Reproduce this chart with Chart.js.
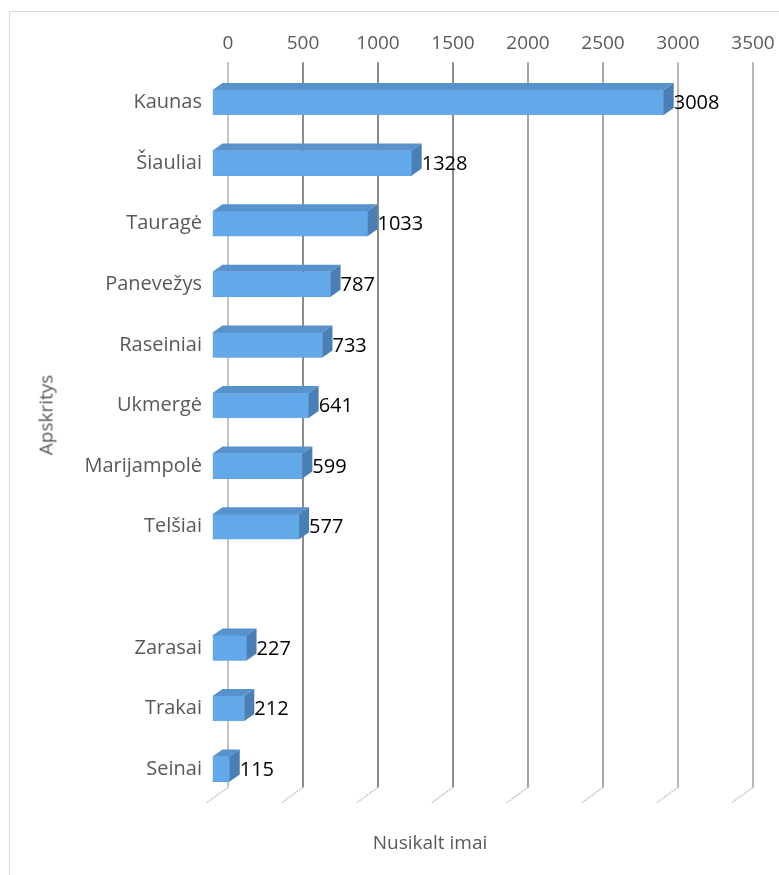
<!DOCTYPE html>
<html><head><meta charset="utf-8">
<script src="https://cdn.jsdelivr.net/npm/chart.js@4.4.0/dist/chart.umd.min.js"></script>
<style>
html,body{margin:0;padding:0;background:#fff;}
#wrap{position:relative;width:779px;height:875px;overflow:hidden;}
#frame{position:absolute;left:9px;top:11px;width:800px;height:900px;border:1px solid #d9d9d9;box-sizing:border-box;}
canvas{position:absolute;left:0;top:0;}
.ttl{position:absolute;font-family:'Open Sans', sans-serif;font-size:19px;color:#595959;white-space:nowrap;line-height:1;}
#xt{left:430px;top:842px;transform:translate(-50%,-50%);}
#yt{left:46px;top:415px;transform:translate(-50%,-50%) rotate(-90deg);}
</style></head><body>
<div id="wrap"><div id="frame"></div><canvas id="c" width="779" height="875"></canvas>
<div class="ttl" id="xt">Nusikalt imai</div>
<div class="ttl" id="yt">Apskritys</div></div>
<script>
const categories = ['Kaunas','Šiauliai','Tauragė','Panevežys','Raseiniai','Ukmergė','Marijampolė','Telšiai','','Zarasai','Trakai','Seinai'];
const crimes = [3008,1328,1033,787,733,641,599,577,null,227,212,115];
const tickValues = [0,500,1000,1500,2000,2500,3000,3500];

const DX = 10, DY = -7;
const gridColors = ['#c4c4c4','#8c8c8c','#8c8c8c','#8c8c8c','#a4a4a4','#a8a8a8','#b8b8b8','#b8b8b8'];

const threeD = {
  id: 'threeD',
  beforeDatasetsDraw(chart) {
    const ctx = chart.ctx, xs = chart.scales.x, area = chart.chartArea;
    ctx.save();
    xs.ticks.forEach((t, i) => {
      const gx = Math.round(xs.getPixelForValue(t.value) + 15.5);
      ctx.strokeStyle = gridColors[i % gridColors.length];
      ctx.lineWidth = 2;
      ctx.beginPath();
      ctx.moveTo(gx, area.top - 10);
      ctx.lineTo(gx, area.bottom - 12);
      ctx.stroke();
      ctx.strokeStyle = '#c8c8c8';
      ctx.lineWidth = 1.5;
      ctx.setLineDash([2, 1]);
      ctx.beginPath();
      ctx.moveTo(gx, area.bottom - 12);
      ctx.lineTo(gx - 21, area.bottom + 3);
      ctx.stroke();
      ctx.setLineDash([]);
    });
    ctx.restore();
  },
  afterDatasetsDraw(chart) {
    const ctx = chart.ctx;
    const meta = chart.getDatasetMeta(0);
    ctx.save();
    meta.data.forEach((bar, i) => {
      const v = chart.data.datasets[0].data[i];
      if (v === null || v === undefined) return;
      const p = bar.getProps(['x','y','base','height'], true);
      const top = p.y - p.height / 2, bottom = p.y + p.height / 2;
      ctx.fillStyle = '#5792cc';
      ctx.beginPath();
      ctx.moveTo(p.base, top);
      ctx.lineTo(p.x, top);
      ctx.lineTo(p.x + DX, top + DY);
      ctx.lineTo(p.base + DX, top + DY);
      ctx.closePath();
      ctx.fill();
      ctx.fillStyle = '#4a7fb6';
      ctx.beginPath();
      ctx.moveTo(p.x, top);
      ctx.lineTo(p.x + DX, top + DY);
      ctx.lineTo(p.x + DX, bottom + DY);
      ctx.lineTo(p.x, bottom);
      ctx.closePath();
      ctx.fill();
      ctx.fillStyle = '#000';
      ctx.font = '20px "Open Sans", sans-serif';
      ctx.textAlign = 'left';
      ctx.textBaseline = 'middle';
      ctx.fillText(String(v), p.x + DX, p.y + 1);
    });
    ctx.restore();
  }
};

new Chart(document.getElementById('c'), {
  type: 'bar',
  data: {
    labels: categories,
    datasets: [{
      data: crimes,
      backgroundColor: '#63a9e9',
      borderColor: '#5a9bd8',
      borderWidth: 0.5,
      barThickness: 25
    }]
  },
  options: {
    indexAxis: 'y',
    responsive: false,
    animation: false,
    devicePixelRatio: 1,
    layout: { padding: { left: 0, top: 0, right: 41.5, bottom: 75.6 } },
    plugins: { legend: { display: false }, tooltip: { enabled: false } },
    scales: {
      x: {
        position: 'top',
        min: 0, max: 3500,
        afterBuildTicks: s => { s.ticks = tickValues.map(v => ({ value: v })); },
        afterFit: s => { s.height = 72.2; },
        grid: { display: false, drawTicks: false },
        border: { display: false },
        ticks: { labelOffset: 15.5, padding: 17, color: '#595959', font: { family: 'Open Sans', size: 19 }, maxRotation: 0, callback: v => String(v) }
      },
      y: {
        afterFit: s => { s.width = 212.5; },
        grid: { display: false, drawTicks: false },
        border: { display: false },
        ticks: { padding: 10.5, color: '#595959', font: { family: 'Open Sans', size: 20 }, autoSkip: false }
      }
    }
  },
  plugins: [threeD]
});
</script>
</body></html>
